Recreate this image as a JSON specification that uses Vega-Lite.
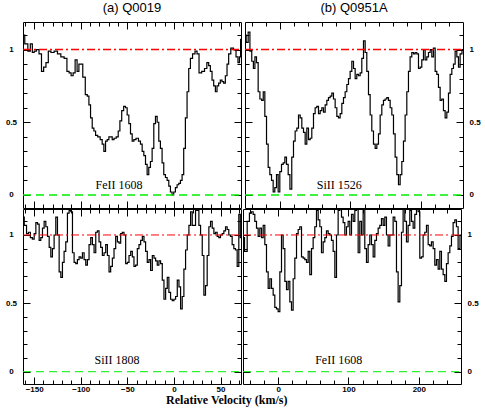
{
  "$schema": "https://vega.github.io/schema/vega-lite/v6.json",
  "background": "white",
  "padding": {"left": 4, "top": 1, "right": 4, "bottom": 4},
  "spacing": -3,
  "config": {
    "view": {"stroke": "black", "strokeWidth": 1},
    "axis": {"domain": false, "grid": false, "labels": false, "ticks": true, "tickColor": "black", "tickWidth": 1, "labelFont": "Liberation Sans", "labelFontSize": 8, "labelFontWeight": "bold", "labelColor": "black"},
    "concat": {"spacing": 0}
  },
  "datasets": {
    "a_fe": [
      {"v":-162,"f":1.10},{"v":-158.2,"f":1.04},{"v":-155.4,"f":0.99},{"v":-152.9,"f":1.04},{"v":-151.1,"f":0.98},{"v":-148.9,"f":0.99},{"v":-146.4,"f":1.00},{"v":-143.2,"f":0.97},{"v":-141.1,"f":0.85},{"v":-138.6,"f":0.88},{"v":-136.1,"f":0.91},{"v":-133.6,"f":0.99},{"v":-130.4,"f":0.98},{"v":-126.8,"f":0.99},{"v":-123.2,"f":0.97},{"v":-119.6,"f":0.95},{"v":-116.1,"f":0.94},{"v":-113.6,"f":0.85},{"v":-111.4,"f":0.84},{"v":-109.3,"f":0.82},{"v":-107.1,"f":0.84},{"v":-105.0,"f":0.93},{"v":-102.9,"f":0.85},{"v":-101.1,"f":0.90},{"v":-99.3,"f":0.90},{"v":-96.4,"f":0.81},{"v":-93.9,"f":0.69},{"v":-92.1,"f":0.68},{"v":-90.4,"f":0.62},{"v":-88.6,"f":0.53},{"v":-86.8,"f":0.46},{"v":-85.0,"f":0.44},{"v":-83.2,"f":0.41},{"v":-80.4,"f":0.40},{"v":-77.9,"f":0.38},{"v":-76.1,"f":0.35},{"v":-74.3,"f":0.30},{"v":-72.5,"f":0.37},{"v":-70.7,"f":0.38},{"v":-68.9,"f":0.40},{"v":-67.1,"f":0.40},{"v":-65.4,"f":0.38},{"v":-63.2,"f":0.39},{"v":-60.7,"f":0.40},{"v":-58.9,"f":0.44},{"v":-57.1,"f":0.51},{"v":-55.0,"f":0.58},{"v":-52.9,"f":0.61},{"v":-51.1,"f":0.60},{"v":-49.3,"f":0.55},{"v":-47.5,"f":0.49},{"v":-45.7,"f":0.42},{"v":-43.9,"f":0.37},{"v":-42.1,"f":0.38},{"v":-39.3,"f":0.39},{"v":-36.8,"f":0.37},{"v":-35.0,"f":0.35},{"v":-33.2,"f":0.30},{"v":-31.4,"f":0.27},{"v":-29.6,"f":0.21},{"v":-27.9,"f":0.14},{"v":-26.1,"f":0.19},{"v":-24.3,"f":0.23},{"v":-22.5,"f":0.32},{"v":-20.7,"f":0.49},{"v":-18.9,"f":0.54},{"v":-17.1,"f":0.50},{"v":-15.4,"f":0.37},{"v":-13.6,"f":0.32},{"v":-11.8,"f":0.22},{"v":-10.0,"f":0.14},{"v":-8.2,"f":0.12},{"v":-6.4,"f":0.10},{"v":-4.6,"f":0.06},{"v":-2.9,"f":0.02},{"v":-1.1,"f":0.00},{"v":0.7,"f":0.02},{"v":2.5,"f":0.05},{"v":4.3,"f":0.07},{"v":6.1,"f":0.08},{"v":7.9,"f":0.10},{"v":9.6,"f":0.14},{"v":11.4,"f":0.32},{"v":13.2,"f":0.53},{"v":15.0,"f":0.71},{"v":16.8,"f":0.87},{"v":18.6,"f":0.94},{"v":21.4,"f":0.97},{"v":23.9,"f":0.99},{"v":25.7,"f":0.97},{"v":28.2,"f":0.84},{"v":31.4,"f":0.85},{"v":34.3,"f":0.87},{"v":36.4,"f":0.91},{"v":38.2,"f":0.89},{"v":40.0,"f":0.85},{"v":41.8,"f":0.79},{"v":43.6,"f":0.75},{"v":45.4,"f":0.71},{"v":47.1,"f":0.75},{"v":48.9,"f":0.77},{"v":50.7,"f":0.79},{"v":52.5,"f":0.78},{"v":54.3,"f":0.77},{"v":56.1,"f":0.82},{"v":57.9,"f":0.90},{"v":59.6,"f":0.97},{"v":62.5,"f":1.01},{"v":65.4,"f":1.00},{"v":67.9,"f":0.95},{"v":69.6,"f":0.91},{"v":71.2,"f":0.95},{"v":72,"f":1.07}
    ],
    "b_si": [
      {"v":-50,"f":1.10},{"v":-46.7,"f":1.05},{"v":-44.3,"f":1.12},{"v":-41.7,"f":0.99},{"v":-39.1,"f":0.92},{"v":-37.0,"f":0.87},{"v":-34.8,"f":0.95},{"v":-32.5,"f":0.91},{"v":-30.1,"f":0.71},{"v":-27.5,"f":0.66},{"v":-25.1,"f":0.65},{"v":-23.0,"f":0.71},{"v":-20.6,"f":0.54},{"v":-18.2,"f":0.35},{"v":-15.9,"f":0.19},{"v":-13.5,"f":0.14},{"v":-11.1,"f":0.10},{"v":-8.8,"f":0.02},{"v":-6.4,"f":0.05},{"v":-4.0,"f":0.14},{"v":-1.7,"f":0.02},{"v":0.7,"f":0.16},{"v":3.1,"f":0.21},{"v":5.5,"f":0.22},{"v":7.8,"f":0.26},{"v":10.2,"f":0.21},{"v":12.6,"f":0.14},{"v":15.2,"f":0.04},{"v":17.8,"f":0.26},{"v":20.1,"f":0.37},{"v":22.5,"f":0.44},{"v":24.9,"f":0.46},{"v":27.3,"f":0.55},{"v":29.6,"f":0.53},{"v":32.0,"f":0.46},{"v":34.4,"f":0.43},{"v":36.7,"f":0.35},{"v":39.1,"f":0.46},{"v":41.5,"f":0.38},{"v":43.8,"f":0.39},{"v":46.2,"f":0.46},{"v":48.6,"f":0.56},{"v":50.9,"f":0.60},{"v":53.3,"f":0.61},{"v":55.7,"f":0.56},{"v":58.1,"f":0.58},{"v":60.4,"f":0.60},{"v":62.8,"f":0.57},{"v":65.2,"f":0.62},{"v":67.5,"f":0.65},{"v":69.9,"f":0.67},{"v":72.3,"f":0.68},{"v":74.6,"f":0.70},{"v":77.0,"f":0.66},{"v":79.4,"f":0.60},{"v":81.8,"f":0.54},{"v":84.1,"f":0.53},{"v":86.5,"f":0.56},{"v":88.9,"f":0.63},{"v":91.2,"f":0.67},{"v":93.6,"f":0.71},{"v":96.0,"f":0.76},{"v":98.3,"f":0.80},{"v":100.7,"f":0.85},{"v":103.1,"f":0.92},{"v":105.5,"f":0.87},{"v":107.8,"f":0.80},{"v":110.2,"f":0.83},{"v":112.6,"f":0.82},{"v":114.9,"f":0.84},{"v":117.3,"f":0.94},{"v":119.7,"f":1.06},{"v":122.0,"f":0.98},{"v":124.4,"f":0.85},{"v":126.8,"f":0.69},{"v":129.1,"f":0.55},{"v":131.5,"f":0.44},{"v":133.9,"f":0.35},{"v":136.3,"f":0.32},{"v":138.6,"f":0.35},{"v":141.0,"f":0.42},{"v":143.4,"f":0.55},{"v":145.7,"f":0.62},{"v":148.1,"f":0.65},{"v":150.5,"f":0.66},{"v":152.8,"f":0.67},{"v":155.2,"f":0.65},{"v":157.6,"f":0.60},{"v":160.0,"f":0.55},{"v":162.3,"f":0.42},{"v":164.7,"f":0.26},{"v":167.1,"f":0.14},{"v":169.4,"f":0.07},{"v":171.8,"f":0.14},{"v":174.2,"f":0.23},{"v":176.5,"f":0.37},{"v":178.9,"f":0.55},{"v":181.3,"f":0.71},{"v":183.6,"f":0.85},{"v":186.0,"f":0.95},{"v":188.4,"f":0.98},{"v":190.8,"f":0.97},{"v":193.1,"f":0.98},{"v":195.5,"f":0.97},{"v":197.9,"f":0.87},{"v":200.2,"f":0.88},{"v":202.6,"f":0.93},{"v":205.0,"f":1.00},{"v":207.3,"f":0.93},{"v":209.7,"f":0.95},{"v":212.1,"f":0.98},{"v":214.5,"f":1.00},{"v":216.8,"f":0.95},{"v":219.2,"f":1.01},{"v":221.6,"f":0.85},{"v":223.9,"f":0.83},{"v":226.3,"f":0.74},{"v":228.7,"f":0.65},{"v":231.0,"f":0.66},{"v":233.4,"f":0.58},{"v":235.8,"f":0.53},{"v":238.2,"f":0.57},{"v":240.5,"f":0.70},{"v":242.9,"f":0.83},{"v":245.3,"f":0.87},{"v":247.6,"f":0.90},{"v":250.0,"f":0.99},{"v":252.4,"f":0.95},{"v":254.7,"f":0.88},{"v":257.1,"f":0.97},{"v":260,"f":1.00}
    ],
    "a_si": [
      {"v":-162,"f":1.13},{"v":-159.3,"f":1.07},{"v":-157.1,"f":1.01},{"v":-155.2,"f":1.02},{"v":-153.0,"f":0.98},{"v":-150.9,"f":0.97},{"v":-149.1,"f":1.01},{"v":-147.3,"f":1.09},{"v":-145.5,"f":1.08},{"v":-143.8,"f":0.96},{"v":-142.0,"f":0.98},{"v":-140.2,"f":1.05},{"v":-138.4,"f":1.10},{"v":-136.6,"f":1.06},{"v":-134.8,"f":0.99},{"v":-133.0,"f":0.91},{"v":-131.3,"f":0.84},{"v":-129.5,"f":0.90},{"v":-127.7,"f":1.00},{"v":-125.9,"f":1.13},{"v":-124.1,"f":1.00},{"v":-122.3,"f":0.73},{"v":-120.5,"f":0.69},{"v":-118.8,"f":0.80},{"v":-117.0,"f":0.88},{"v":-115.2,"f":0.95},{"v":-113.4,"f":1.16},{"v":-111.6,"f":1.18},{"v":-109.8,"f":1.17},{"v":-108.0,"f":0.87},{"v":-106.3,"f":0.80},{"v":-104.5,"f":0.79},{"v":-102.7,"f":0.82},{"v":-100.9,"f":0.84},{"v":-99.1,"f":0.83},{"v":-97.3,"f":0.87},{"v":-95.5,"f":0.82},{"v":-93.8,"f":0.78},{"v":-92.0,"f":0.82},{"v":-90.2,"f":0.93},{"v":-88.4,"f":0.98},{"v":-86.6,"f":0.93},{"v":-84.8,"f":0.87},{"v":-83.0,"f":1.02},{"v":-81.3,"f":1.03},{"v":-79.5,"f":0.95},{"v":-77.7,"f":0.91},{"v":-75.9,"f":0.85},{"v":-74.1,"f":0.87},{"v":-72.3,"f":0.93},{"v":-70.5,"f":0.85},{"v":-68.8,"f":0.73},{"v":-67.0,"f":0.77},{"v":-65.2,"f":0.83},{"v":-63.4,"f":0.90},{"v":-61.6,"f":0.99},{"v":-59.8,"f":0.95},{"v":-58.0,"f":0.94},{"v":-56.3,"f":1.01},{"v":-54.5,"f":1.02},{"v":-52.7,"f":1.00},{"v":-50.9,"f":0.79},{"v":-49.1,"f":0.80},{"v":-47.3,"f":0.85},{"v":-45.5,"f":0.88},{"v":-43.8,"f":0.84},{"v":-42.0,"f":0.77},{"v":-40.2,"f":0.78},{"v":-38.4,"f":0.90},{"v":-36.6,"f":0.93},{"v":-34.8,"f":0.96},{"v":-33.0,"f":0.99},{"v":-31.3,"f":0.95},{"v":-29.5,"f":0.88},{"v":-27.7,"f":0.80},{"v":-25.9,"f":0.82},{"v":-24.1,"f":0.74},{"v":-22.3,"f":0.85},{"v":-20.5,"f":0.83},{"v":-18.8,"f":0.81},{"v":-17.0,"f":0.78},{"v":-15.2,"f":0.81},{"v":-13.4,"f":0.79},{"v":-11.6,"f":0.67},{"v":-9.8,"f":0.53},{"v":-8.0,"f":0.61},{"v":-6.3,"f":0.69},{"v":-4.5,"f":0.58},{"v":-2.7,"f":0.53},{"v":-0.9,"f":0.52},{"v":0.9,"f":0.53},{"v":2.7,"f":0.55},{"v":4.5,"f":0.67},{"v":6.3,"f":0.62},{"v":8.0,"f":0.46},{"v":9.8,"f":0.55},{"v":11.6,"f":0.75},{"v":13.4,"f":0.89},{"v":15.2,"f":1.00},{"v":17.0,"f":1.07},{"v":18.8,"f":1.17},{"v":20.5,"f":1.07},{"v":22.3,"f":1.07},{"v":24.1,"f":1.18},{"v":25.9,"f":1.18},{"v":27.7,"f":1.07},{"v":29.5,"f":1.00},{"v":31.3,"f":0.85},{"v":33.0,"f":0.56},{"v":34.8,"f":0.63},{"v":36.6,"f":0.85},{"v":38.4,"f":1.06},{"v":40.2,"f":1.10},{"v":42.0,"f":1.05},{"v":43.8,"f":1.01},{"v":45.5,"f":1.02},{"v":47.3,"f":0.99},{"v":49.1,"f":0.98},{"v":50.9,"f":1.00},{"v":52.7,"f":1.01},{"v":54.5,"f":1.03},{"v":56.3,"f":1.06},{"v":58.0,"f":1.04},{"v":59.8,"f":1.00},{"v":61.6,"f":0.99},{"v":63.4,"f":0.93},{"v":65.2,"f":0.90},{"v":67.0,"f":0.89},{"v":68.8,"f":0.77},{"v":70.5,"f":1.15},{"v":72,"f":0.98}
    ],
    "b_fe": [
      {"v":-50,"f":0.98},{"v":-45.7,"f":0.88},{"v":-42.4,"f":1.10},{"v":-39.3,"f":1.16},{"v":-36.7,"f":1.17},{"v":-34.4,"f":1.15},{"v":-32.0,"f":1.10},{"v":-29.6,"f":1.05},{"v":-27.3,"f":0.99},{"v":-24.9,"f":1.05},{"v":-22.5,"f":0.98},{"v":-20.1,"f":1.07},{"v":-17.8,"f":0.93},{"v":-15.4,"f":0.73},{"v":-13.0,"f":0.61},{"v":-10.7,"f":0.68},{"v":-8.3,"f":0.61},{"v":-5.9,"f":0.56},{"v":-3.6,"f":0.47},{"v":-1.2,"f":0.46},{"v":1.2,"f":0.44},{"v":3.6,"f":0.73},{"v":5.9,"f":1.00},{"v":8.3,"f":0.90},{"v":10.7,"f":0.66},{"v":13.0,"f":0.60},{"v":15.4,"f":0.66},{"v":17.8,"f":0.51},{"v":20.1,"f":0.45},{"v":22.5,"f":0.68},{"v":24.9,"f":0.83},{"v":27.3,"f":1.01},{"v":29.6,"f":1.04},{"v":32.0,"f":1.06},{"v":34.4,"f":0.84},{"v":36.7,"f":0.83},{"v":39.1,"f":0.82},{"v":41.5,"f":0.80},{"v":43.8,"f":0.88},{"v":46.2,"f":0.71},{"v":48.6,"f":0.90},{"v":50.9,"f":0.98},{"v":53.3,"f":1.06},{"v":55.7,"f":1.18},{"v":58.1,"f":1.11},{"v":60.4,"f":1.06},{"v":62.8,"f":0.87},{"v":65.2,"f":0.95},{"v":67.5,"f":0.98},{"v":69.9,"f":1.03},{"v":72.3,"f":1.01},{"v":74.6,"f":1.00},{"v":77.0,"f":0.96},{"v":79.4,"f":0.88},{"v":81.8,"f":0.69},{"v":84.1,"f":1.00},{"v":86.5,"f":1.18},{"v":88.9,"f":1.19},{"v":91.2,"f":1.13},{"v":93.6,"f":1.09},{"v":96.0,"f":1.00},{"v":98.3,"f":1.06},{"v":100.7,"f":1.10},{"v":103.1,"f":1.00},{"v":105.5,"f":1.15},{"v":107.8,"f":1.10},{"v":110.2,"f":1.18},{"v":112.6,"f":1.19},{"v":114.9,"f":0.87},{"v":117.3,"f":1.10},{"v":119.7,"f":1.00},{"v":122.0,"f":1.19},{"v":124.4,"f":0.90},{"v":126.8,"f":0.80},{"v":129.1,"f":0.93},{"v":131.5,"f":1.00},{"v":133.9,"f":0.93},{"v":136.3,"f":0.84},{"v":138.6,"f":0.96},{"v":141.0,"f":1.01},{"v":143.4,"f":1.05},{"v":145.7,"f":1.07},{"v":148.1,"f":1.12},{"v":150.5,"f":1.07},{"v":152.8,"f":1.13},{"v":155.2,"f":1.00},{"v":157.6,"f":0.92},{"v":160.0,"f":1.00},{"v":162.3,"f":1.00},{"v":164.7,"f":1.13},{"v":167.1,"f":1.10},{"v":169.4,"f":0.73},{"v":171.8,"f":0.51},{"v":174.2,"f":0.63},{"v":176.5,"f":1.02},{"v":178.9,"f":1.19},{"v":181.3,"f":1.10},{"v":183.6,"f":0.95},{"v":186.0,"f":1.07},{"v":188.4,"f":1.18},{"v":190.8,"f":1.10},{"v":193.1,"f":1.05},{"v":195.5,"f":1.15},{"v":197.9,"f":1.19},{"v":200.2,"f":1.17},{"v":202.6,"f":0.83},{"v":205.0,"f":0.84},{"v":207.3,"f":1.00},{"v":209.7,"f":1.02},{"v":212.1,"f":1.07},{"v":214.5,"f":0.93},{"v":216.8,"f":0.92},{"v":219.2,"f":0.95},{"v":221.6,"f":0.90},{"v":223.9,"f":0.78},{"v":226.3,"f":0.82},{"v":228.7,"f":0.75},{"v":231.0,"f":0.88},{"v":233.4,"f":0.75},{"v":235.8,"f":0.71},{"v":238.2,"f":0.66},{"v":240.5,"f":0.79},{"v":242.9,"f":0.87},{"v":245.3,"f":0.92},{"v":247.6,"f":0.99},{"v":250.0,"f":1.09},{"v":252.4,"f":1.11},{"v":254.7,"f":1.06},{"v":257.1,"f":0.90},{"v":260,"f":1.00}
    ]
  },
  "vconcat": [
    {
      "spacing": 0,
      "hconcat": [
        {
          "width": 218, "height": 186,
          "title": {"text": "(a) Q0019", "font": "Liberation Sans", "fontSize": 13, "fontWeight": "normal", "color": "black", "baseline": "alphabetic", "offset": -3, "anchor": "middle"},
          "resolve": {"axis": {"x": "independent", "y": "independent"}},
          "layer": [
            {"data": {"name": "a_fe"}, "mark": {"type": "line", "interpolate": "step", "clip": true, "color": "black", "strokeWidth": 1.2},
             "encoding": {
               "x": {"field": "v", "type": "quantitative", "scale": {"domain": [-162, 72], "nice": false, "zero": false}, "axis": {"orient": "bottom", "values": [-150,-100,-50,0,50], "tickSize": -7, "title": null}},
               "y": {"field": "f", "type": "quantitative", "scale": {"domain": [-0.09, 1.19], "nice": false, "zero": false}, "axis": {"orient": "left", "values": [0,0.5,1], "tickSize": -7, "labels": true, "format": "~r", "labelAlign": "center", "labelBaseline": "middle", "labelPadding": 19, "title": null}}
             }},
            {"data": {"values": [{"label": "FeII 1608"}]}, "mark": {"type": "text", "font": "Liberation Serif", "fontSize": 12, "color": "black"},
             "encoding": {
               "x": {"datum": -59, "type": "quantitative", "scale": {"domain": [-162, 72], "nice": false, "zero": false}, "axis": {"orient": "bottom", "values": [-160,-140,-130,-120,-110,-90,-80,-70,-60,-40,-30,-20,-10,10,20,30,40,60,70], "tickSize": -4, "title": null}},
               "y": {"datum": 0.07, "type": "quantitative", "scale": {"domain": [-0.09, 1.19], "nice": false, "zero": false}, "axis": {"orient": "left", "values": [0.1,0.2,0.3,0.4,0.6,0.7,0.8,0.9,1.1], "tickSize": -4, "title": null}},
               "text": {"field": "label"}
             }},
            {"data": {"values": [{}]}, "mark": {"type": "rule", "color": "#ff0000", "strokeWidth": 1.5, "strokeDash": [8, 3, 2, 3]},
             "encoding": {
               "x": {"datum": -162, "type": "quantitative", "scale": {"domain": [-162, 72], "nice": false, "zero": false}, "axis": {"orient": "top", "values": [-150,-100,-50,0,50], "tickSize": -7, "title": null}},
               "x2": {"datum": 72},
               "y": {"datum": 1, "type": "quantitative", "scale": {"domain": [-0.09, 1.19], "nice": false, "zero": false}, "axis": {"orient": "right", "values": [0,0.5,1], "tickSize": -7, "title": null}}
             }},
            {"data": {"values": [{}]}, "mark": {"type": "rule", "color": "#00ee00", "strokeWidth": 1.5, "strokeDash": [8, 5]},
             "encoding": {
               "x": {"datum": -162, "type": "quantitative", "scale": {"domain": [-162, 72], "nice": false, "zero": false}, "axis": {"orient": "top", "values": [-160,-140,-130,-120,-110,-90,-80,-70,-60,-40,-30,-20,-10,10,20,30,40,60,70], "tickSize": -4, "title": null}},
               "x2": {"datum": 72},
               "y": {"datum": 0, "type": "quantitative", "scale": {"domain": [-0.09, 1.19], "nice": false, "zero": false}, "axis": {"orient": "right", "values": [0.1,0.2,0.3,0.4,0.6,0.7,0.8,0.9,1.1], "tickSize": -4, "title": null}}
             }}
          ]
        },
        {
          "width": 218, "height": 186,
          "title": {"text": "(b) Q0951A", "font": "Liberation Sans", "fontSize": 13, "fontWeight": "normal", "color": "black", "baseline": "alphabetic", "offset": -3, "anchor": "middle"},
          "resolve": {"axis": {"x": "independent", "y": "independent"}},
          "layer": [
            {"data": {"name": "b_si"}, "mark": {"type": "line", "interpolate": "step", "clip": true, "color": "black", "strokeWidth": 1.2},
             "encoding": {
               "x": {"field": "v", "type": "quantitative", "scale": {"domain": [-50, 260], "nice": false, "zero": false}, "axis": {"orient": "bottom", "values": [0,100,200], "tickSize": -7, "title": null}},
               "y": {"field": "f", "type": "quantitative", "scale": {"domain": [-0.09, 1.19], "nice": false, "zero": false}, "axis": {"orient": "right", "values": [0,0.5,1], "tickSize": -7, "labels": true, "format": "~r", "labelAlign": "left", "labelBaseline": "middle", "labelPadding": 13, "title": null}}
             }},
            {"data": {"values": [{"label": "SiII 1526"}]}, "mark": {"type": "text", "font": "Liberation Serif", "fontSize": 12, "color": "black"},
             "encoding": {
               "x": {"datum": 84, "type": "quantitative", "scale": {"domain": [-50, 260], "nice": false, "zero": false}, "axis": {"orient": "bottom", "values": [-40,-20,20,40,60,80,120,140,160,180,220,240], "tickSize": -4, "title": null}},
               "y": {"datum": 0.07, "type": "quantitative", "scale": {"domain": [-0.09, 1.19], "nice": false, "zero": false}, "axis": {"orient": "right", "values": [0.1,0.2,0.3,0.4,0.6,0.7,0.8,0.9,1.1], "tickSize": -4, "title": null}},
               "text": {"field": "label"}
             }},
            {"data": {"values": [{}]}, "mark": {"type": "rule", "color": "#ff0000", "strokeWidth": 1.5, "strokeDash": [8, 3, 2, 3]},
             "encoding": {
               "x": {"datum": -50, "type": "quantitative", "scale": {"domain": [-50, 260], "nice": false, "zero": false}, "axis": {"orient": "top", "values": [0,100,200], "tickSize": -7, "title": null}},
               "x2": {"datum": 260},
               "y": {"datum": 1, "type": "quantitative", "scale": {"domain": [-0.09, 1.19], "nice": false, "zero": false}, "axis": {"orient": "left", "values": [0,0.5,1], "tickSize": -7, "title": null}}
             }},
            {"data": {"values": [{}]}, "mark": {"type": "rule", "color": "#00ee00", "strokeWidth": 1.5, "strokeDash": [8, 5]},
             "encoding": {
               "x": {"datum": -50, "type": "quantitative", "scale": {"domain": [-50, 260], "nice": false, "zero": false}, "axis": {"orient": "top", "values": [-40,-20,20,40,60,80,120,140,160,180,220,240], "tickSize": -4, "title": null}},
               "x2": {"datum": 260},
               "y": {"datum": 0, "type": "quantitative", "scale": {"domain": [-0.09, 1.19], "nice": false, "zero": false}, "axis": {"orient": "left", "values": [0.1,0.2,0.3,0.4,0.6,0.7,0.8,0.9,1.1], "tickSize": -4, "title": null}}
             }}
          ]
        }
      ]
    },
    {
      "spacing": 0,
      "title": {"text": "Relative Velocity (km/s)", "orient": "bottom", "anchor": "middle", "font": "Liberation Serif", "fontSize": 12, "fontWeight": "bold", "color": "black", "baseline": "top", "offset": 1, "dx": -15},
      "hconcat": [
        {
          "width": 218, "height": 175,
          "resolve": {"axis": {"x": "independent", "y": "independent"}},
          "layer": [
            {"data": {"name": "a_si"}, "mark": {"type": "line", "interpolate": "step", "clip": true, "color": "black", "strokeWidth": 1.2},
             "encoding": {
               "x": {"field": "v", "type": "quantitative", "scale": {"domain": [-162, 72], "nice": false, "zero": false}, "axis": {"orient": "bottom", "values": [-150,-100,-50,0,50], "tickSize": -7, "labels": true, "format": "d", "labelBaseline": "top", "labelPadding": 8, "title": null}},
               "y": {"field": "f", "type": "quantitative", "scale": {"domain": [-0.09, 1.19], "nice": false, "zero": false}, "axis": {"orient": "left", "values": [0,0.5,1], "tickSize": -7, "labels": true, "format": "~r", "labelAlign": "center", "labelBaseline": "middle", "labelPadding": 19, "title": null}}
             }},
            {"data": {"values": [{"label": "SiII 1808"}]}, "mark": {"type": "text", "font": "Liberation Serif", "fontSize": 12, "color": "black"},
             "encoding": {
               "x": {"datum": -61, "type": "quantitative", "scale": {"domain": [-162, 72], "nice": false, "zero": false}, "axis": {"orient": "bottom", "values": [-160,-140,-130,-120,-110,-90,-80,-70,-60,-40,-30,-20,-10,10,20,30,40,60,70], "tickSize": -4, "title": null}},
               "y": {"datum": 0.083, "type": "quantitative", "scale": {"domain": [-0.09, 1.19], "nice": false, "zero": false}, "axis": {"orient": "left", "values": [0.1,0.2,0.3,0.4,0.6,0.7,0.8,0.9,1.1], "tickSize": -4, "title": null}},
               "text": {"field": "label"}
             }},
            {"data": {"values": [{}]}, "mark": {"type": "rule", "color": "#ff0000", "strokeWidth": 1, "strokeDash": [8, 3, 2, 3]},
             "encoding": {
               "x": {"datum": -162, "type": "quantitative", "scale": {"domain": [-162, 72], "nice": false, "zero": false}, "axis": {"orient": "top", "values": [-150,-100,-50,0,50], "tickSize": -7, "title": null}},
               "x2": {"datum": 72},
               "y": {"datum": 1, "type": "quantitative", "scale": {"domain": [-0.09, 1.19], "nice": false, "zero": false}, "axis": {"orient": "right", "values": [0,0.5,1], "tickSize": -7, "title": null}}
             }},
            {"data": {"values": [{}]}, "mark": {"type": "rule", "color": "#00ee00", "strokeWidth": 1, "strokeDash": [8, 5]},
             "encoding": {
               "x": {"datum": -162, "type": "quantitative", "scale": {"domain": [-162, 72], "nice": false, "zero": false}, "axis": {"orient": "top", "values": [-160,-140,-130,-120,-110,-90,-80,-70,-60,-40,-30,-20,-10,10,20,30,40,60,70], "tickSize": -4, "title": null}},
               "x2": {"datum": 72},
               "y": {"datum": 0, "type": "quantitative", "scale": {"domain": [-0.09, 1.19], "nice": false, "zero": false}, "axis": {"orient": "right", "values": [0.1,0.2,0.3,0.4,0.6,0.7,0.8,0.9,1.1], "tickSize": -4, "title": null}}
             }}
          ]
        },
        {
          "width": 218, "height": 175,
          "resolve": {"axis": {"x": "independent", "y": "independent"}},
          "layer": [
            {"data": {"name": "b_fe"}, "mark": {"type": "line", "interpolate": "step", "clip": true, "color": "black", "strokeWidth": 1.2},
             "encoding": {
               "x": {"field": "v", "type": "quantitative", "scale": {"domain": [-50, 260], "nice": false, "zero": false}, "axis": {"orient": "bottom", "values": [0,100,200], "tickSize": -7, "labels": true, "format": "d", "labelBaseline": "top", "labelPadding": 8, "title": null}},
               "y": {"field": "f", "type": "quantitative", "scale": {"domain": [-0.09, 1.19], "nice": false, "zero": false}, "axis": {"orient": "right", "values": [0,0.5,1], "tickSize": -7, "labels": true, "format": "~r", "labelAlign": "left", "labelBaseline": "middle", "labelPadding": 13, "title": null}}
             }},
            {"data": {"values": [{"label": "FeII 1608"}]}, "mark": {"type": "text", "font": "Liberation Serif", "fontSize": 12, "color": "black"},
             "encoding": {
               "x": {"datum": 86, "type": "quantitative", "scale": {"domain": [-50, 260], "nice": false, "zero": false}, "axis": {"orient": "bottom", "values": [-40,-20,20,40,60,80,120,140,160,180,220,240], "tickSize": -4, "title": null}},
               "y": {"datum": 0.083, "type": "quantitative", "scale": {"domain": [-0.09, 1.19], "nice": false, "zero": false}, "axis": {"orient": "right", "values": [0.1,0.2,0.3,0.4,0.6,0.7,0.8,0.9,1.1], "tickSize": -4, "title": null}},
               "text": {"field": "label"}
             }},
            {"data": {"values": [{}]}, "mark": {"type": "rule", "color": "#ff0000", "strokeWidth": 1, "strokeDash": [8, 3, 2, 3]},
             "encoding": {
               "x": {"datum": -50, "type": "quantitative", "scale": {"domain": [-50, 260], "nice": false, "zero": false}, "axis": {"orient": "top", "values": [0,100,200], "tickSize": -7, "title": null}},
               "x2": {"datum": 260},
               "y": {"datum": 1, "type": "quantitative", "scale": {"domain": [-0.09, 1.19], "nice": false, "zero": false}, "axis": {"orient": "left", "values": [0,0.5,1], "tickSize": -7, "title": null}}
             }},
            {"data": {"values": [{}]}, "mark": {"type": "rule", "color": "#00ee00", "strokeWidth": 1, "strokeDash": [8, 5]},
             "encoding": {
               "x": {"datum": -50, "type": "quantitative", "scale": {"domain": [-50, 260], "nice": false, "zero": false}, "axis": {"orient": "top", "values": [-40,-20,20,40,60,80,120,140,160,180,220,240], "tickSize": -4, "title": null}},
               "x2": {"datum": 260},
               "y": {"datum": 0, "type": "quantitative", "scale": {"domain": [-0.09, 1.19], "nice": false, "zero": false}, "axis": {"orient": "left", "values": [0.1,0.2,0.3,0.4,0.6,0.7,0.8,0.9,1.1], "tickSize": -4, "title": null}}
             }}
          ]
        }
      ]
    }
  ]
}
